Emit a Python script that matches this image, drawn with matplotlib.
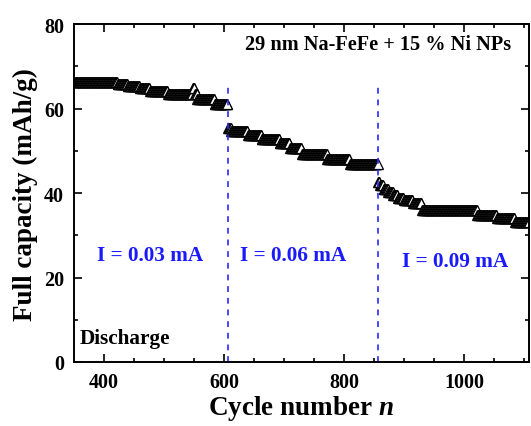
import numpy as np
import matplotlib
matplotlib.use("Agg")
import matplotlib.pyplot as plt

plt.rcParams['font.family'] = ['Liberation Serif', 'DejaVu Serif']
plt.rcParams['font.weight'] = 'bold'
plt.rcParams['mathtext.fontset'] = 'custom'
plt.rcParams['mathtext.it'] = 'Liberation Serif:italic:bold'
plt.rcParams['mathtext.rm'] = 'Liberation Serif:bold'

# Plateaus: cycle where each level starts, and capacity (mAh/g)
plateau_start = [350, 423, 440, 460, 477, 507, 548, 552, 556, 585,
                 607, 612, 640, 663, 693, 710, 730, 772, 810,
                 857, 860, 866, 874, 882, 890, 900, 915, 930, 1022, 1055, 1085]
plateau_value = [66.3, 65.8, 65.3, 64.9, 64.2, 63.4, 64.8, 63.5, 62.2, 61.0,
                 55.5, 54.8, 53.8, 52.9, 51.9, 50.6, 49.3, 48.0, 46.8,
                 42.6, 41.8, 41.0, 40.2, 39.5, 38.9, 38.3, 37.6, 36.0, 34.8, 34.0, 33.2]
last_cycle = 1108

rate_changes = [607, 857]
rate_labels = ["I = 0.03 mA", "I = 0.06 mA", "I = 0.09 mA"]
rate_label_x = [477, 715, 985]
rate_label_y = [25.3, 25.3, 23.9]

# expand plateaus to one point per cycle
ends = plateau_start[1:] + [last_cycle + 1]
cycles = np.concatenate([np.arange(s, e) for s, e in zip(plateau_start, ends)])
capacity = np.concatenate([np.full(e - s, v) for s, v, e in zip(plateau_start, plateau_value, ends)])

fig = plt.figure(figsize=(5.31, 4.27), dpi=100)
ax = fig.add_axes([0.139, 0.150, 0.857, 0.791])

ax.plot(cycles, capacity, linestyle='none', marker='^', markersize=7.5,
        markerfacecolor='white', markeredgecolor='black', markeredgewidth=0.9)

for xc in rate_changes:
    ax.plot([xc, xc], [0, 66], color='#2a2aff', linestyle=(0, (3.5, 3.5)), linewidth=1.2)

for lab, lx, ly in zip(rate_labels, rate_label_x, rate_label_y):
    ax.text(lx, ly, lab, color='#1a1aff', fontsize=15.3, fontweight='bold', ha='center', va='center')

ax.text(1078, 75.3, "29 nm Na-FeFe + 15 % Ni NPs", fontsize=14.6, fontweight='bold',
        ha='right', va='center')
ax.text(359, 5.6, "Discharge", fontsize=15.3, fontweight='bold', ha='left', va='center')

ax.set_xlim(350, 1108)
ax.set_ylim(0, 80)
ax.set_xticks([400, 600, 800, 1000])
ax.set_xticks(np.arange(400, 1101, 50), minor=True)
ax.set_yticks([0, 20, 40, 60, 80])
ax.set_yticks(np.arange(0, 81, 10), minor=True)

ax.tick_params(which='both', direction='in', top=True, right=True, width=1.2)
ax.tick_params(which='major', length=6, labelsize=14.5)
ax.tick_params(axis='x', which='major', pad=7)
ax.tick_params(axis='y', which='major', pad=7)
ax.tick_params(which='minor', length=3)
for lab in ax.get_xticklabels() + ax.get_yticklabels():
    lab.set_fontweight('bold')
for sp in ax.spines.values():
    sp.set_linewidth(1.4)

ax.set_xlabel("Cycle number $n$", fontsize=19.5, fontweight='bold', labelpad=1)
ax.set_ylabel("Full capacity (mAh/g)", fontsize=19.5, fontweight='bold', labelpad=4)

fig.savefig("out.png", dpi=100)
